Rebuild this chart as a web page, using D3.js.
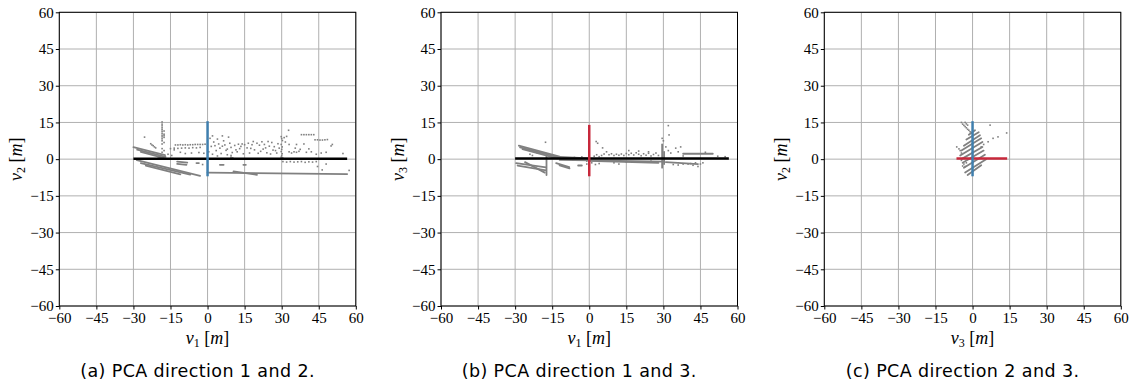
<!DOCTYPE html>
<html><head><meta charset="utf-8">
<script src="https://cdn.jsdelivr.net/npm/d3@7"></script>
<style>
body{margin:0;background:#fff;}
svg{display:block;}
.serif{font-family:"Liberation Serif","Times New Roman","DejaVu Serif",serif;}
.sans{font-family:"DejaVu Sans",sans-serif;}
</style></head><body>
<svg id="chart" width="1129" height="389"></svg>
<script>
// ---------- data ----------
const tickValues = [-60,-45,-30,-15,0,15,30,45,60];
const captions = ["(a) PCA direction 1 and 2.", "(b) PCA direction 1 and 3.", "(c) PCA direction 2 and 3."];
const xLabels = [["v","1"],["v","1"],["v","3"]];
const yLabels = [["v","2"],["v","3"],["v","2"]];

// panel (a): v1 vs v2
const aPoints = [
 [-18.4,15.2],[-18.4,14.3],[-18.4,13.6],[-18.4,12.8],[-18.4,12.1],[-18.4,11.4],[-18.4,10.6],[-18.4,9.8],[-18.4,9.1],[-18.4,8.3],[-18.4,7.5],[-18.4,6.2],[-18.4,4.3],[-18.4,2.8],
 [-17.6,11.5],[-17.6,10.2],[-17.6,9.6],[-17.6,8.9],[-17.6,6.8],[-17.6,3.5],
 [-25.5,9],[-23,6.3],[-22.5,5.8],[-22,5.5],[-21.5,5],[-21,4.6],[-16,2],[-14.5,1.5],[-13.5,3.8],[-20,1],[-19.5,0.8],[-19,1.2],
 [-13,5.8],[-12,5.8],[-11,5.9],[-10,5.8],[-9,5.9],[-8,5.8],[-7,5.9],[-6,5.9],[-5,6],[-4,6],[-3,6],[-2,6],[-1,6.1],
 [-15,4.3],[-13.5,4.5],[-12,4.4],[-10.5,4.5],[-9,4.6],[-7.5,4.5],[-6,4.7],[-4.5,4.6],[-3,4.8],
 [-11,2.8],[-9,2.3],[-6.5,2.5],[-3.5,2.7],[-1.5,2.4],
 [1,8.5],[2,9.5],[2.5,7],[3,5.5],[3.5,3.5],[4,8.2],[4.5,6.2],[5,4.5],[5.5,2.3],[6,9.5],[6.5,7.5],[7,5.8],[7.5,3.6],[8,1.8],[8.5,9],[9,6.5],[9.5,4.8],[10,2.7],
 [11,5.6],[12,3],[12.5,6.1],[13,4.3],[14,6.2],[14.5,2.2],[15,5.9],[16,4.6],[16.5,6.5],[17,2.5],[18,5.9],[18.5,7.2],[19,3.8],[20,6.5],[20.5,2.4],[21,5.7],
 [22,7.1],[22.5,4.1],[23,6],[24,2.6],[24.5,7.2],[25,5.3],[26,6.8],[26.5,3.7],[27,5.1],[28,2.5],[28.5,6.3],[29,4.5],
 [0.5,3],[2,2],[4,1.3],[9.5,0.8],[9.5,1.5],[10.2,0.5],[1.5,5.2],[6,5.3],[8,4.1],[11.5,3.8],[13.5,5.2],[17.5,4.4],[21.5,3.2],[23.5,4.6],[25.5,2.1],[27.5,3.5],
 [29.8,9.2],[30,8.4],[30.3,7.6],[29.8,6],[30.2,5],[30,4],[29.8,3.1],[30.2,2.2],[30,1.4],[29.8,0.8],[30.4,0.5],[31,8.8],[31.5,7],[32,9.3],[32.8,11.8],[33,6],
 [38,10],[39,10],[40,10],[41,10],[42,10],[43,10],
 [43.5,7.9],[44.5,7.9],[45.5,7.8],[46.5,7.8],[47.5,7.9],[48.5,8],
 [50.5,6],[50,5.4],[54.8,2.3],[36,6],[37.5,4],[39,6.2],[40,2.8],[41,4.2],[33,3],[34,2.5],[35,3],[36,2.8],[37,3.2],[42,3],[44,2],[46,2.5],[48,2.8],[35.5,4.5],
 [30.5,-1],[32,-1.2],[33.5,-1],[35,-1.2],[36.5,-1.1],[38,-1],[39.5,-1.3],[41,-1.1],[42.5,-1.2],[44,-1],
 [46.4,-4.4],[57.3,-4.6],[44.5,-3],[48,-2],[-2,-2.2]
];
const aStreaks = [
 [-30,4.9,-17.2,1.6],[-28.5,3.9,-17,0.9],[-27,3.0,-17.5,0.4],
 [-28.6,-0.4,-3,-6.8],[-27,-1.6,-7,-6.3],[-25,-2.6,-11,-6.2],
 [0,-5.5,56.5,-6.1],[10.5,-5.0,20,-6.4],
 [-12.3,-1,-8.2,-1.4],[-12.3,-1.9,-8.5,-2.3],[-4.5,-1.6,-3.5,-1.6],[5,-2.3,6.5,-2.3],[14.5,-2.3,15.5,-2.3]
];
const aBlackLine = [[-30,0.2],[56.5,0.2]];
const aColorLine = [[0,-7],[0,15.5]];

// panel (b): v1 vs v3
const bPoints = [
 [-17.7,6.9],[-24,2],[-23,1.5],[-21,2.5],[3.4,6.5],[5.4,4.6],[2.8,7.2],[7,3],[8,1.8],[9,2.2],[10,1.5],[11,2],[12,1.6],[13,2.1],[14,1.5],[15,2.3],
 [16,1.8],[17,2.4],[18,1.7],[19,2.6],[20,2],[21,1.4],[22,2.2],[23,1.6],[24,2.4],[25,1.3],[26,1.9],[27,2.5],[28,1.5],
 [2,1.2],[3,1.8],[4,1],[5,1.5],[6,2.1],[1,-1.5],[-1,-2],[2.5,-2.2],[4,-1.8],
 [32,13.7],[32.3,9.9],[30,7.5],[29.5,8.5],[31,5],[32,3.5],[33,2.5],[35,4.5],[36,3],[37,5],[38,1.3],
 [40,-2],[42,-2.5],[44,-3],[45,-2],[46,-1.5],[47,2.8],[52,1.2],[55,1],[16,3.5],[20,3.3],[24,3],
 [-9,0.5],[-6,0.7],[-3,0.9],[-1,-0.8],[10,-1.5],[12,-2],[15,-1.2],[25,-0.8],[34,-2.2],[36,-2.4],[38,-2],[41,-1.8],[43,-1.5]
];
const bStreaks = [
 [-28.5,5.5,-12,1.0],[-28,4.8,-12,0.6],[-27,4.1,-13,0.3],[-12,0.9,0,0.3],
 [-12,-0.3,30,-1.0],[0,-0.7,28,-1.5],
 [-29.6,-1.6,-17.5,-3.4],[-29,-2.6,-17.5,-4.6],[-26,-1.2,-18,-5.5],[-17.3,1.5,-17.3,-6.5],
 [-13.4,-1.6,-8.1,-3.3],[-12,-2.5,-8,-3.8],[-4.5,-2.6,-3,-2.6],
 [29.5,6,29.5,-3.5],[30.3,3,30.3,-2],[38,2.2,50,2.2],[31,-1.2,44,-2]
];
const bBlackLine = [[-30,0.3],[56.5,0.3]];
const bColorLine = [[0,-7],[0,14]];

// panel (c): v3 vs v2
const cPoints = [
 [-4.5,15],[-4,14.3],[-3.5,13.8],[-3,13.3],[-2.5,12.8],[-2,12.2],[-1.5,11.8],[-1,11.2],[-0.5,10.8],[-3,15],[-2.5,14.4],[-2,13.9],
 [7.1,13.9],[13.8,10.7],[10.3,9.1],[8.3,8.5],[6.3,7.1],[4.5,6],[3.5,5],
 [-6.4,5],[-5.5,4.2],[-5,3.5],[-4.5,2.5],[-3.5,-2],[-3,-3],[-2.5,-1.5],[-4.5,-0.5],[-4,-2.8]
];
const cStreaks = [
 [-2,-6.5,3.5,-2.5],[-3,-5.5,5.5,0],[-3.5,-3.5,5,1.8],[-4,-1.5,4.5,3.5],[-4.5,0,4,5],[-5,1.5,4,7],[-4.5,3.5,3.5,8.5],[-3.5,5.5,3,9.8],[-2.5,8,2.5,11],[-1.5,10,1,11.8]
];
const cBlackLine = [[-6.5,0.3],[14,0.3]];
const cColorLine = [[0,-7],[0,15.5]];

const BLUE = "#3f7fae", RED = "#c7283b", GRAY = "#808080";

const panels = [
 {left:59.3, points:aPoints, streaks:aStreaks, hLine:aBlackLine, hColor:"#000", vLine:aColorLine, vColor:BLUE},
 {left:441, points:bPoints, streaks:bStreaks, hLine:bBlackLine, hColor:"#000", vLine:bColorLine, vColor:RED},
 {left:824.3, points:cPoints, streaks:cStreaks, hLine:cBlackLine, hColor:RED, vLine:cColorLine, vColor:BLUE}
];

const svg = d3.select("#chart");
const W = 296.5, plotTop = 12.3, plotBottom = 306;
const fmt = d3.format("d");

panels.forEach((p, i) => {
  const x = d3.scaleLinear([-60,60],[p.left, p.left+W]);
  const y = d3.scaleLinear([-60,60],[plotBottom, plotTop]);
  const g = svg.append("g");

  // grid
  g.append("g").selectAll("line").data(tickValues).join("line")
    .attr("x1", d=>x(d)).attr("x2", d=>x(d)).attr("y1", plotTop).attr("y2", plotBottom)
    .attr("stroke","#b0b0b0").attr("stroke-width",1);
  g.append("g").selectAll("line").data(tickValues).join("line")
    .attr("y1", d=>y(d)).attr("y2", d=>y(d)).attr("x1", p.left).attr("x2", p.left+W)
    .attr("stroke","#b0b0b0").attr("stroke-width",1);

  // streaks
  g.append("g").selectAll("line").data(p.streaks).join("line")
    .attr("x1", d=>x(d[0])).attr("y1", d=>y(d[1])).attr("x2", d=>x(d[2])).attr("y2", d=>y(d[3]))
    .attr("stroke",GRAY).attr("stroke-width",1.8).attr("stroke-linecap","round");
  // points
  g.append("g").selectAll("rect").data(p.points).join("rect")
    .attr("x", d=>x(d[0])-0.8).attr("y", d=>y(d[1])-0.8).attr("width",1.6).attr("height",1.6)
    .attr("fill",GRAY);

  const line = d3.line().x(d=>x(d[0])).y(d=>y(d[1]));
  g.append("path").attr("d", line(p.hLine)).attr("stroke", p.hColor).attr("stroke-width",2.5).attr("fill","none");
  g.append("path").attr("d", line(p.vLine)).attr("stroke", p.vColor).attr("stroke-width",2.5).attr("fill","none");

  // axes
  const ax = g.append("g").attr("transform",`translate(0,${plotBottom})`)
    .call(d3.axisBottom(x).tickValues(tickValues).tickFormat(fmt).tickSizeOuter(0).tickSize(3.5).tickPadding(3));
  const ay = g.append("g").attr("transform",`translate(${p.left},0)`)
    .call(d3.axisLeft(y).tickValues(tickValues).tickFormat(fmt).tickSizeOuter(0).tickSize(3.5).tickPadding(2));
  [ax, ay].forEach(a => {
    a.attr("font-family", null).attr("font-size", null);
    a.select(".domain").remove();
    a.selectAll("text").attr("class","serif").style("font-size","15px").attr("fill","#000");
    a.selectAll("line").attr("stroke","#000");
  });

  // frame
  g.append("rect").attr("x",p.left).attr("y",plotTop).attr("width",W).attr("height",plotBottom-plotTop)
    .attr("fill","none").attr("stroke","#000").attr("stroke-width",1);

  // x label
  const xl = g.append("text").attr("class","serif").attr("x", p.left+W/2).attr("y", 344).attr("text-anchor","middle")
    .style("font-size","18px");
  xl.append("tspan").attr("font-style","italic").text(xLabels[i][0]);
  xl.append("tspan").style("font-size","12px").attr("dy",3).text(xLabels[i][1]);
  xl.append("tspan").attr("dy",-3).text(" [");
  xl.append("tspan").attr("font-style","italic").text("m");
  xl.append("tspan").text("]");

  // y label
  const yl = g.append("text").attr("class","serif").attr("transform",`translate(${p.left-37},${(plotTop+plotBottom)/2}) rotate(-90)`)
    .attr("text-anchor","middle").style("font-size","18px");
  yl.append("tspan").attr("font-style","italic").text(yLabels[i][0]);
  yl.append("tspan").style("font-size","12px").attr("dy",3).text(yLabels[i][1]);
  yl.append("tspan").attr("dy",-3).text(" [");
  yl.append("tspan").attr("font-style","italic").text("m");
  yl.append("tspan").text("]");

  // caption
  g.append("text").attr("class","sans").attr("x", p.left+W/2-10).attr("y", 377).attr("text-anchor","middle")
    .style("font-size","17.5px").style("letter-spacing","0.4px").attr("fill","#000")
    .text(captions[i]);
});
</script>
</body></html>
